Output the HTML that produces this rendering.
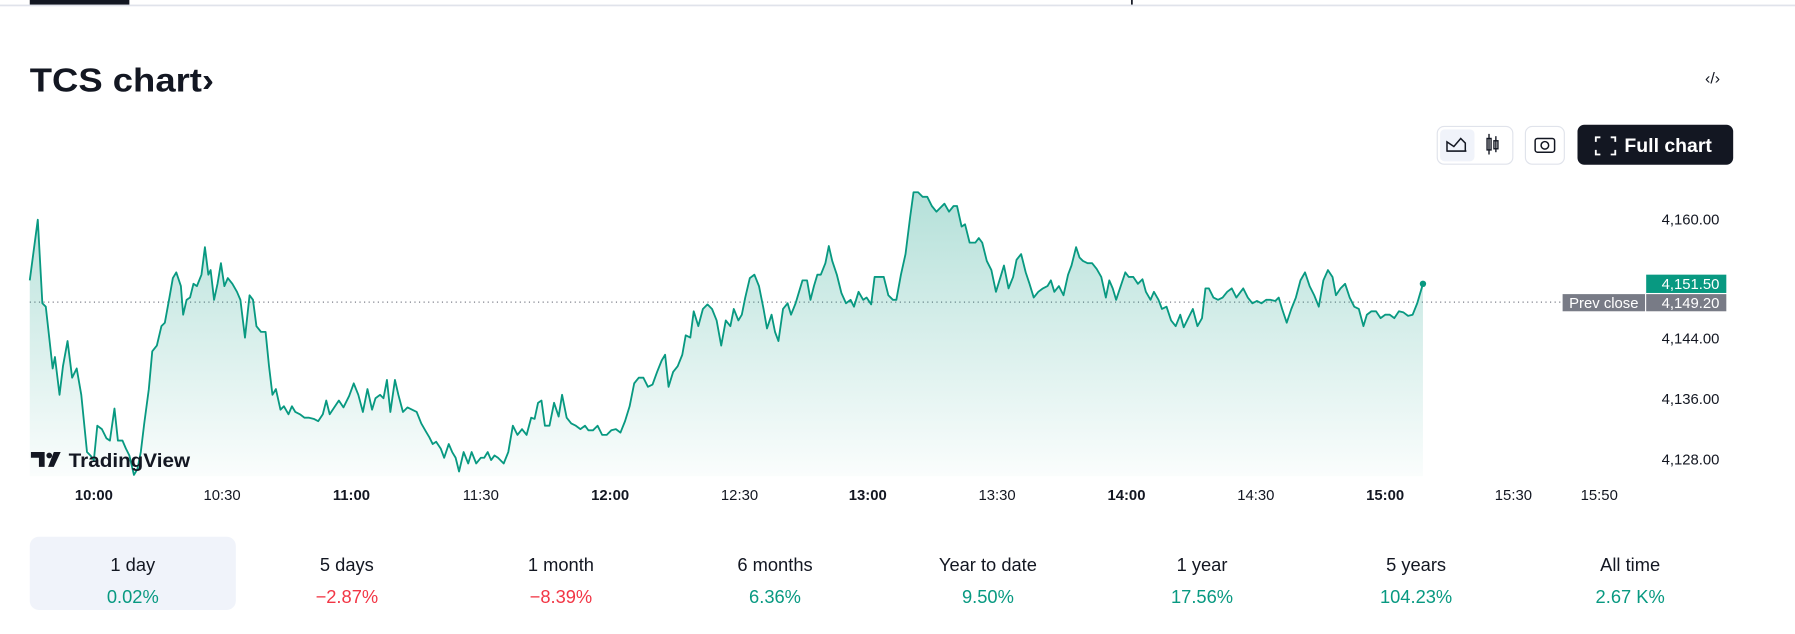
<!DOCTYPE html>
<html><head><meta charset="utf-8"><style>
html,body{margin:0;padding:0;background:#fff;width:1795px;height:634px;overflow:hidden}
svg{display:block}
text{font-family:"Liberation Sans",Arial,sans-serif}
</style></head><body>
<svg id="s" width="1795" height="634" viewBox="0 0 1568 554" preserveAspectRatio="none" xmlns="http://www.w3.org/2000/svg">
<defs>
<linearGradient id="g" gradientUnits="userSpaceOnUse" x1="0" y1="168" x2="0" y2="416">
<stop offset="0" stop-color="#089981" stop-opacity="0.3"/>
<stop offset="1" stop-color="#089981" stop-opacity="0.02"/>
</linearGradient>
</defs>
<rect x="0" y="4" width="1568" height="1.5" fill="#e0e3eb"/>
<rect x="26" y="0" width="87" height="4" fill="#131722"/>
<rect x="988" y="0" width="1.5" height="4" fill="#131722"/>
<text x="26" y="80" font-size="29" font-weight="bold" fill="#131722" textLength="161" lengthAdjust="spacingAndGlyphs">TCS chart›</text>
<text x="1496" y="73" font-size="14" fill="#131722" text-anchor="middle">‹/›</text>
<rect x="1255.5" y="110.5" width="66" height="33" rx="6" fill="#fff" stroke="#e0e3eb"/>
<rect x="1258" y="113" width="30" height="28" rx="4" fill="#f0f3fa"/>
<path d="M1264 132 L1264 124 L1270 128 L1276 121 L1280 125 L1280 132 Z" fill="none" stroke="#131722" stroke-width="1.3"/>
<line x1="1264" y1="132" x2="1281" y2="132" stroke="#131722" stroke-width="1.3"/>
<rect x="1299" y="121" width="3.5" height="10" fill="none" stroke="#131722" stroke-width="1.2"/>
<line x1="1300.7" y1="117" x2="1300.7" y2="135" stroke="#131722" stroke-width="1.2"/>
<rect x="1305" y="123" width="3.5" height="7" fill="none" stroke="#131722" stroke-width="1.2"/>
<line x1="1306.7" y1="119" x2="1306.7" y2="133" stroke="#131722" stroke-width="1.2"/>
<rect x="1332.5" y="110.5" width="34" height="33" rx="6" fill="#fff" stroke="#e0e3eb"/>
<rect x="1341" y="121" width="17" height="12" rx="2" fill="none" stroke="#131722" stroke-width="1.3"/>
<circle cx="1349.5" cy="127" r="3.3" fill="none" stroke="#131722" stroke-width="1.3"/>
<rect x="1378" y="109" width="136" height="35" rx="6" fill="#131722"/>
<path d="M1394 124 v-4 h4 M1407 120 h4 v4 M1411 131 v4 h-4 M1398 135 h-4 v-4" fill="none" stroke="#fff" stroke-width="1.6"/>
<text x="1419" y="133" font-size="17" font-weight="bold" fill="#fff">Full chart</text>
<line x1="26" y1="264" x2="1438" y2="264" stroke="#787b86" stroke-width="1" stroke-dasharray="1,3"/>
<path id="fill" fill="url(#g)"/>
<path id="line" fill="none" stroke="#089981" stroke-width="1.6" stroke-linejoin="round"/>
<circle cx="1243" cy="248" r="2.8" fill="#089981"/>
<g font-size="13" fill="#131722" text-anchor="end">
<text x="1502" y="196">4,160.00</text>
<text x="1502" y="300">4,144.00</text>
<text x="1502" y="353">4,136.00</text>
<text x="1502" y="406">4,128.00</text>
</g>
<rect x="1438" y="240" width="70" height="16" fill="#089981"/>
<text x="1502" y="252.5" font-size="13" fill="#fff" text-anchor="end">4,151.50</text>
<rect x="1365" y="257" width="72" height="15" fill="#787b86"/>
<text x="1401" y="269" font-size="13" fill="#fff" text-anchor="middle">Prev close</text>
<rect x="1438" y="257" width="70" height="15" fill="#787b86"/>
<text x="1502" y="269" font-size="13" fill="#fff" text-anchor="end">4,149.20</text>
<g font-size="13" fill="#131722" text-anchor="middle">
<text x="82" y="437" font-weight="bold">10:00</text>
<text x="194" y="437">10:30</text>
<text x="307" y="437" font-weight="bold">11:00</text>
<text x="420" y="437">11:30</text>
<text x="533" y="437" font-weight="bold">12:00</text>
<text x="646" y="437">12:30</text>
<text x="758" y="437" font-weight="bold">13:00</text>
<text x="871" y="437">13:30</text>
<text x="984" y="437" font-weight="bold">14:00</text>
<text x="1097" y="437">14:30</text>
<text x="1210" y="437" font-weight="bold">15:00</text>
<text x="1322" y="437">15:30</text>
<text x="1397" y="437">15:50</text>
</g>
<path d="M27 395 h12 v13 h-5 v-8 h-7 Z" fill="#131722"/>
<circle cx="43" cy="398" r="2.5" fill="#131722"/>
<path d="M47 395 h6 l-6 13 h-5 Z" fill="#131722"/>
<text x="60" y="408" font-size="17" font-weight="bold" fill="#131722" textLength="106" lengthAdjust="spacingAndGlyphs">TradingView</text>
<rect x="26" y="469" width="180" height="64" rx="8" fill="#f0f3fa"/>
<g font-size="16" text-anchor="middle" fill="#131722">
<text x="116" y="499">1 day</text><text x="303" y="499">5 days</text><text x="490" y="499">1 month</text><text x="677" y="499">6 months</text>
<text x="863" y="499">Year to date</text><text x="1050" y="499">1 year</text><text x="1237" y="499">5 years</text><text x="1424" y="499">All time</text>
</g>
<g font-size="16" text-anchor="middle">
<text x="116" y="527" fill="#089981">0.02%</text><text x="303" y="527" fill="#f23645">−2.87%</text><text x="490" y="527" fill="#f23645">−8.39%</text><text x="677" y="527" fill="#089981">6.36%</text>
<text x="863" y="527" fill="#089981">9.50%</text><text x="1050" y="527" fill="#089981">17.56%</text><text x="1237" y="527" fill="#089981">104.23%</text><text x="1424" y="527" fill="#089981">2.67 K%</text>
</g>
</svg>
<script>
var p=[26,245,33,192,37,265,40,268,46,322,48,312,52,345,55,320,59,298,63,330,67,322,71,345,76,395,79,398,82,402,85,372,89,375,93,383,96,385,100,357,103,385,107,385,110,392,113,398,117,415,120,410,123,395,126,370,130,340,133,307,137,302,141,285,144,282,148,260,151,243,154,238,158,250,160,275,163,262,166,260,169,248,172,250,176,240,179,216,182,240,184,236,187,262,190,248,193,230,196,250,199,243,203,248,207,255,210,262,214,295,218,258,221,262,224,285,228,290,232,290,235,320,238,345,241,340,245,358,248,355,252,362,255,355,258,360,262,362,266,365,270,365,274,366,278,368,282,362,285,350,288,362,292,356,296,350,300,356,305,346,309,335,313,345,317,360,321,340,325,358,328,348,332,345,335,348,338,332,341,360,345,332,348,345,352,360,356,356,360,358,364,360,368,370,372,377,375,382,378,388,381,386,385,392,388,400,392,388,395,395,398,400,401,412,405,395,409,405,412,395,416,405,420,400,423,400,426,395,429,402,432,398,435,400,440,405,444,395,448,372,452,380,456,375,460,380,464,365,467,366,470,352,473,350,476,372,480,372,484,352,488,364,491,345,495,365,499,370,503,372,507,375,511,372,514,376,518,376,522,372,526,380,530,380,534,376,538,375,542,378,546,368,550,355,554,335,558,330,562,330,566,338,570,336,574,325,578,315,581,310,584,338,588,325,592,320,596,310,599,293,603,295,606,272,610,285,614,270,618,266,622,270,626,280,630,302,634,280,638,285,641,270,645,280,648,275,651,260,655,243,659,240,663,250,667,270,670,287,674,275,677,290,680,298,684,270,688,265,691,275,695,265,698,255,701,245,705,245,708,262,711,250,714,240,717,240,721,230,724,215,727,228,731,240,735,256,739,265,743,262,746,268,750,255,754,262,757,260,761,266,764,242,768,242,772,242,776,258,780,262,783,262,787,240,791,222,795,190,798,168,802,168,806,172,810,172,814,180,818,185,821,182,825,178,829,185,833,180,836,180,840,198,843,196,847,212,852,212,855,208,858,212,862,228,866,236,870,255,874,242,877,232,881,252,885,242,888,227,892,222,896,238,899,247,903,260,907,255,911,252,915,250,918,245,921,255,925,250,929,258,933,240,936,232,940,216,943,225,946,228,950,230,954,230,958,235,962,242,966,260,969,245,972,252,975,262,979,250,983,238,986,242,990,242,994,248,998,244,1001,255,1005,262,1008,255,1012,262,1015,270,1019,268,1023,280,1027,285,1031,275,1034,286,1038,278,1042,270,1046,285,1050,278,1053,252,1056,252,1060,260,1064,262,1068,260,1072,255,1076,252,1080,260,1083,256,1086,252,1090,260,1094,265,1098,263,1102,265,1106,262,1110,262,1114,263,1117,260,1120,270,1124,282,1128,270,1132,260,1136,245,1140,238,1144,250,1148,258,1152,268,1156,245,1160,236,1164,242,1167,258,1171,252,1175,248,1179,260,1183,268,1187,270,1191,285,1194,275,1198,272,1202,272,1206,278,1210,275,1214,275,1218,278,1222,272,1226,273,1230,276,1234,275,1238,265,1243,248];
var d="M"+p[0]+" "+p[1];for(var i=2;i<p.length;i+=2)d+=" L"+p[i]+" "+p[i+1];
document.getElementById("line").setAttribute("d",d);
document.getElementById("fill").setAttribute("d",d+" L1243 416 L26 416 Z");
</script>
</body></html>
